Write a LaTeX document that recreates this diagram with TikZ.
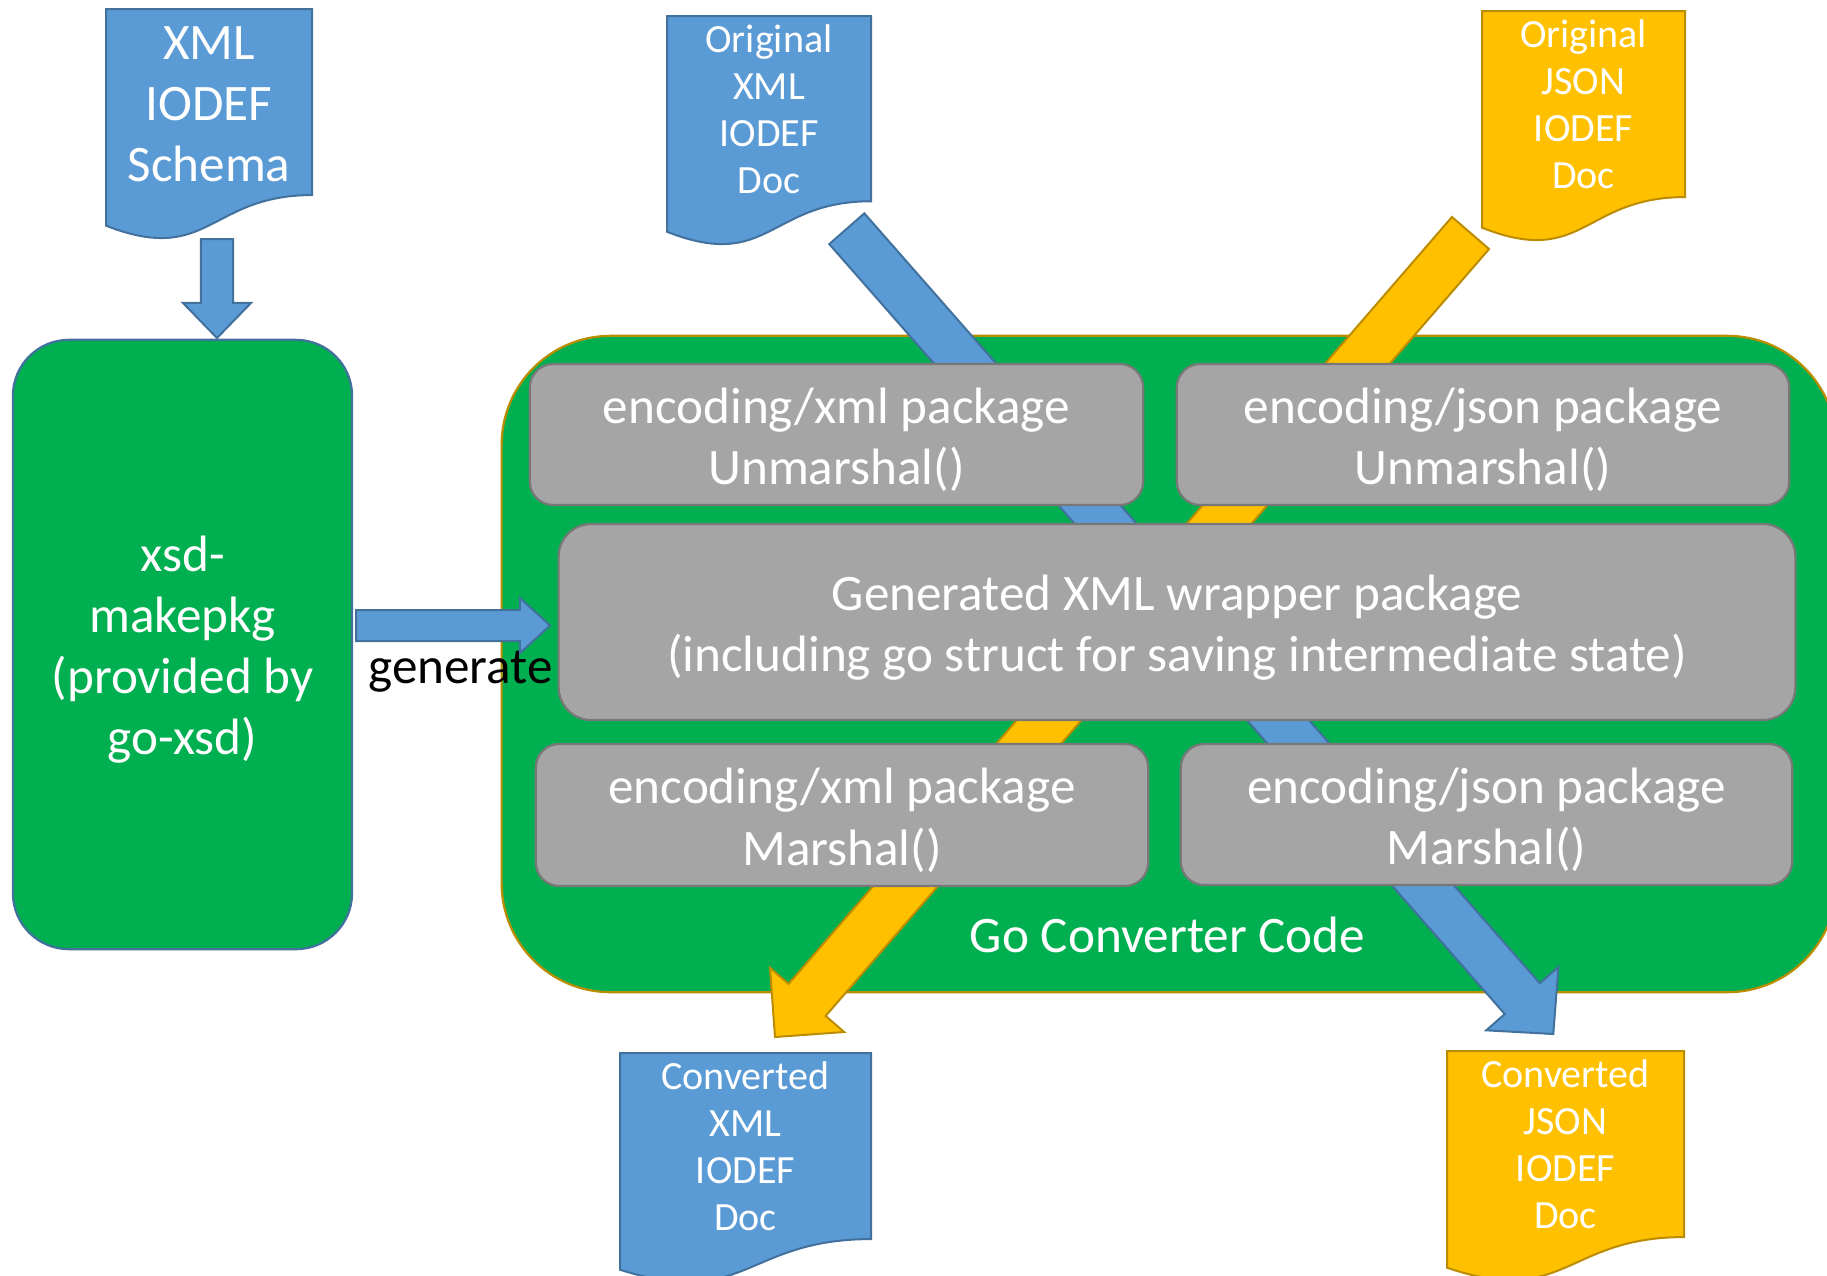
\documentclass[tikz,border=0pt]{standalone}
\usepackage{fontspec}
\setmainfont{Carlito}
\usetikzlibrary{calc}
\definecolor{docblue}{HTML}{5B9BD5}
\definecolor{docblueline}{HTML}{41719C}
\definecolor{docgold}{HTML}{FFC000}
\definecolor{docgoldline}{HTML}{BC8C00}
\definecolor{codegreen}{HTML}{00B050}
\definecolor{pkggray}{HTML}{A5A5A5}
\definecolor{pkgline}{HTML}{787878}
\tikzset{
	bigtext/.style={font=\fontsize{14.55pt}{17.36pt}\selectfont, text=white, align=center, inner sep=0pt},
	doctext/.style={font=\fontsize{11.38pt}{13.37pt}\selectfont, text=white, align=center, inner sep=0pt},
	bluefill/.style={fill=docblue, draw=docblueline, line width=0.02cm},
	goldfill/.style={fill=docgold, draw=docgoldline, line width=0.02cm},
	pkgbox/.style={bigtext, fill=pkggray, draw=pkgline, line width=0.022cm, rounded corners=0.235cm},
}
% block arrow: [style](tail)(tip)(shaft half width:head half width:head length)
\def\blockarrow[#1](#2)(#3)(#4:#5:#6){\coordinate (ah) at ($(#3)!#6!(#2)$);
	\draw[#1] ($(#2)!#4!90:(#3)$) -- ($(ah)!#4!90:(#3)$) -- ($(ah)!#5!90:(#3)$) -- (#3) -- ($(ah)!#5!-90:(#3)$) -- ($(ah)!#4!-90:(#3)$) -- ($(#2)!#4!-90:(#3)$) -- cycle;}
% document shape: [style](left,top)(width,height)
\def\iodefdoc[#1](#2,#3)(#4,#5){\draw[#1] (#2,#3) -- ({#2+#4},#3) -- ({#2+#4},{#3+0.802*#5}) .. controls ({#2+0.5*#4},{#3+0.802*#5}) and ({#2+0.5*#4},{#3+1.1075*#5}) .. (#2,{#3+0.934*#5}) -- cycle;}
% pushes box text a little down
\def\toppad{\rule{0pt}{0.46cm}}

\begin{document}
\begin{tikzpicture}[x=0.01cm, y=-0.01cm]
		%%%%% START %%%%%
		\useasboundingbox (0,0) rectangle (1827,1275);
		
		\node[fill=codegreen, draw=docgoldline, line width=0.022cm, rounded corners=1.09cm, minimum width=13.34cm, minimum height=6.56cm] (conv) at (1169,664) {};
		\node[bigtext, fill=codegreen, draw=docblueline, line width=0.022cm, rounded corners=0.56cm, minimum width=3.39cm, minimum height=6.09cm] (xsd) at (182.5,644.5) {\toppad xsd-\\makepkg\\(provided by\\go-xsd)};
		
		\iodefdoc[bluefill](106,9)(206,232);
		\node[bigtext] (schema) at (209,104) {XML\\IODEF\\Schema};
		\iodefdoc[bluefill](667,16)(204,231);
		\node[doctext] (origxml) at (769,109) {Original\\XML\\IODEF\\Doc};
		\iodefdoc[goldfill](1482,11)(203,232);
		\node[doctext] (origjson) at (1583.5,104) {Original\\JSON\\IODEF\\Doc};
		\iodefdoc[bluefill](620,1053)(251,232);
		\node[doctext] (convxml) at (745.5,1146.5) {Converted\\XML\\IODEF\\Doc};
		\iodefdoc[goldfill](1447,1051)(237,232);
		\node[doctext] (convjson) at (1565.5,1144.5) {Converted\\JSON\\IODEF\\Doc};
		
		\coordinate (schema tail) at (217,239);
		\coordinate (xsd top) at (217,338);
		\blockarrow[bluefill](schema tail)(xsd top)(0.16cm:0.34cm:0.35cm);
		
		\coordinate (gen tail) at (356,625.5);
		\coordinate (gen tip) at (550,625.5);
		\blockarrow[bluefill](gen tail)(gen tip)(0.155cm:0.275cm:0.3cm);
		\node[bigtext, text=black, anchor=base] (generate) at (460.5,683) {generate};
		
		\coordinate (xml tail) at (846.8,228.7);
		\coordinate (json tip) at (1553.3,1034);
		\blockarrow[bluefill](xml tail)(json tip)(0.233cm:0.48cm:0.47cm);
		\coordinate (json tail) at (1470.5,233);
		\coordinate (xml tip) at (775,1037);
		\blockarrow[goldfill](json tail)(xml tip)(0.245cm:0.49cm:0.49cm);
		
		\node[pkgbox, minimum width=6.13cm, minimum height=1.41cm] (xmlunm) at (836.5,434.5) {\toppad encoding/xml package\\Unmarshal()};
		\node[pkgbox, minimum width=6.12cm, minimum height=1.41cm] (jsonunm) at (1483,434.5) {\toppad encoding/json package\\Unmarshal()};
		\node[pkgbox, rounded corners=0.327cm, minimum width=12.36cm, minimum height=1.96cm] (wrapper) at (1177,622) {\toppad Generated XML wrapper package\\(including go struct for saving intermediate state)};
		\node[pkgbox, minimum width=6.12cm, minimum height=1.42cm] (xmlmar) at (842,815) {\toppad encoding/xml package\\Marshal()};
		\node[pkgbox, minimum width=6.11cm, minimum height=1.41cm] (jsonmar) at (1486.5,814.5) {\toppad encoding/json package\\Marshal()};
		
		\node[bigtext, anchor=base] (gocode) at (1167.5,952) {Go Converter Code};
		
		%%%%% END %%%%%
\end{tikzpicture}
\end{document}
